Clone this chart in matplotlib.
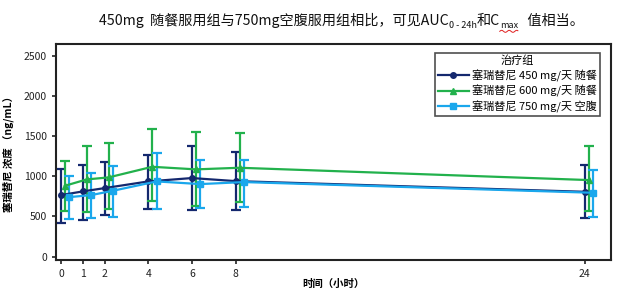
import matplotlib
matplotlib.use("Agg")
import matplotlib.pyplot as plt
from matplotlib.lines import Line2D
from matplotlib import font_manager
import numpy as np

plt.rcParams['font.family'] = ['Noto Sans CJK SC', 'DejaVu Sans']

# Sampling times (hours)
times = [0, 1, 2, 4, 6, 8, 24]
xtick_labels = ['0', '1', '2', '4', '6', '8', '24']

# Mean concentration with upper / lower bar ends (ng/mL)
fed450_mean = [765, 811, 852, 935, 977, 939, 806]
fed450_upper = [1085, 1138, 1172, 1267, 1378, 1304, 1134]
fed450_lower = [420, 458, 520, 591, 578, 574, 475]

fed600_mean = [881, 960, 985, 1117, 1085, 1105, 952]
fed600_upper = [1192, 1375, 1408, 1586, 1549, 1532, 1375]
fed600_lower = [566, 553, 587, 694, 628, 682, 566]

fast750_mean = [740, 765, 819, 935, 902, 927, 794]
fast750_upper = [1005, 1043, 1130, 1288, 1200, 1200, 1076]
fast750_lower = [470, 475, 495, 587, 600, 612, 488]

series_labels = ['塞瑞替尼 450 mg/天 随餐', '塞瑞替尼 600 mg/天 随餐', '塞瑞替尼 750 mg/天 空腹']
colors = ['#14286E', '#22B14C', '#1AA7EC']
markers = ['o', '^', 's']
offsets = [0.0, 0.18, 0.38]

fig = plt.figure(figsize=(6.18, 2.92), dpi=100)
ax = fig.add_axes([0.0906, 0.111, 0.898, 0.738])

groups = [
    (fed450_mean, fed450_upper, fed450_lower),
    (fed600_mean, fed600_upper, fed600_lower),
    (fast750_mean, fast750_upper, fast750_lower),
]
handles = []
for (mean, up, lo), lab, c, m, off in zip(groups, series_labels, colors, markers, offsets):
    x = np.array(times) + off
    mean = np.array(mean)
    yerr = np.vstack([mean - np.array(lo), np.array(up) - mean])
    ax.errorbar(x, mean, yerr=yerr, color=c, marker=m, markersize=4,
                linewidth=1.6, elinewidth=1.6, capsize=3.5, capthick=1.6)
    handles.append(Line2D([], [], color=c, marker=m, markersize=4,
                          linewidth=1.6, label=lab))

ax.set_xlim(-0.23, 25.2)
ax.set_ylim(-37, 2643)
ax.set_xticks(times)
ax.set_xticklabels(xtick_labels)
ax.set_yticks([0, 500, 1000, 1500, 2000, 2500])
ax.tick_params(labelsize=7.5, length=3, width=1.2, colors='#222222')
for s in ax.spines.values():
    s.set_linewidth(1.5)
    s.set_color('#222222')

ax.set_ylabel('塞瑞替尼 浓度 （ng/mL）', fontsize=7.5, fontweight='bold', labelpad=7)
ax.set_xlabel('时间（小时）', fontsize=7.5, fontweight='bold', labelpad=0)

leg = ax.legend(handles=handles, title='治疗组', loc='upper right',
                bbox_to_anchor=(0.98, 0.96), borderaxespad=0,
                fontsize=8, title_fontsize=8, frameon=True, fancybox=False,
                edgecolor='#222222', handlelength=2.8, borderpad=0.25,
                labelspacing=0.3, handletextpad=0.3)
leg.get_frame().set_linewidth(1.2)

# Title: narrow face for Latin characters, CJK font for the rest
installed = {f.name for f in font_manager.fontManager.ttflist}
title_family = ['Noto Sans CJK SC', 'DejaVu Sans']
if 'Liberation Sans Narrow' in installed:
    title_family = ['Liberation Sans Narrow', 'Noto Sans CJK SC', 'DejaVu Sans']

fs = 10.2
pieces = [
    ('450mg  随餐服用组与750mg空腹服用组相比，可见AUC', fs, 0),
    ('0 - 24h', 6.5, -3),
    ('和C', fs, 3),
    ('max', 6.5, -3),
    ('   值相当。', fs, 3),
]
base_frac = 0.915
x0_frac = 99 / 618
texts = []
for txt, size, _ in pieces:
    texts.append(fig.text(x0_frac, base_frac, txt, fontsize=size, ha='left',
                          va='baseline', color='#111111', family=title_family))
fig.canvas.draw()
renderer = fig.canvas.get_renderer()
x_px = texts[0].get_window_extent(renderer).x1
cur_y = base_frac * fig.bbox.height
for t, (_, size, dy) in zip(texts[1:], pieces[1:]):
    cur_y += dy
    t.set_position((x_px / fig.bbox.width, cur_y / fig.bbox.height))
    x_px = t.get_window_extent(renderer).x1

# Red wavy underline beneath the "max" subscript
bb = texts[3].get_window_extent(renderer)
wx = np.linspace(bb.x0, bb.x1, 40)
wy = bb.y0 - 1.5 + 1.0 * np.sin((wx - bb.x0) / 1.2)
fig.add_artist(Line2D(wx / fig.bbox.width, wy / fig.bbox.height,
                      transform=fig.transFigure, color='#E02020', linewidth=0.7))

fig.savefig('out.png', dpi=100)
